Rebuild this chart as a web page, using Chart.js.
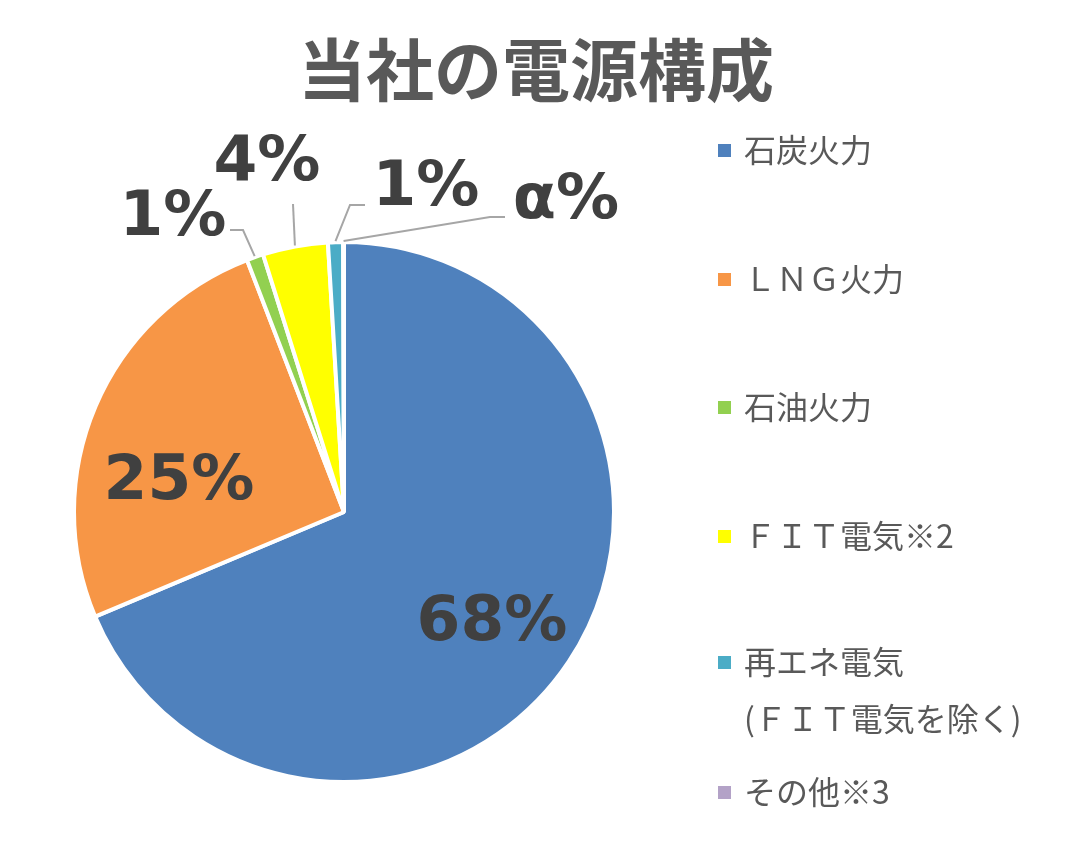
<!DOCTYPE html>
<html>
<head>
<meta charset="utf-8">
<script src="https://cdn.jsdelivr.net/npm/chart.js@4"></script>
<style>
  body { margin: 0; background: #fff; }
  #wrap { width: 1076px; height: 850px; position: relative; }
</style>
</head>
<body>
<div id="wrap"><canvas id="pie"></canvas></div>
<script>
// ========== DATA ==========
const title = '当社の電源構成';
const categories = ['石炭火力', 'ＬＮＧ火力', '石油火力', 'ＦＩＴ電気※2', ['再エネ電気', '(ＦＩＴ電気を除く)'], 'その他※3'];
const shares = [68.7, 25.5, 1.0, 3.9, 0.9, 0.05];
const shareLabels = ['68%', '25%', '1%', '4%', '1%', 'α%'];
const colors = ['#4F81BD', '#F79646', '#92D050', '#FFFF00', '#4BACC6', '#B3A2C7'];

// ========== LABEL LAYOUT ==========
// inside labels: only x/baseline; outside ones get a leader line to the slice
const labelPos = [
  { x: 492, y: 640 },
  { x: 179, y: 499 },
  { x: 173, y: 235, line: [[230, 230], [243, 230]] },
  { x: 267, y: 180, line: [[293, 204]] },
  { x: 426, y: 205, line: [[365, 205], [350, 205]] },
  { x: 566, y: 218, line: [[505, 217], [490, 217]] }
];
const legendRows = [151, 280, 408, 537, 663, 793];

const overlay = {
  id: 'overlay',
  afterDraw(chart) {
    const ctx = chart.ctx;
    const arcs = chart.getDatasetMeta(0).data;
    ctx.save();

    // title
    ctx.fillStyle = '#595959';
    ctx.font = 'bold 68px "Noto Sans CJK JP"';
    ctx.textAlign = 'center';
    ctx.textBaseline = 'middle';
    ctx.fillText(title, 536, 70);

    // leader lines
    ctx.strokeStyle = '#A6A6A6';
    ctx.lineWidth = 2;
    labelPos.forEach((p, i) => {
      if (!p.line) return;
      const a = arcs[i];
      const mid = (a.startAngle + a.endAngle) / 2;
      const ax = a.x + Math.cos(mid) * (a.outerRadius + 1);
      const ay = a.y + Math.sin(mid) * (a.outerRadius + 1);
      ctx.beginPath();
      ctx.moveTo(p.line[0][0], p.line[0][1]);
      p.line.slice(1).forEach(pt => ctx.lineTo(pt[0], pt[1]));
      ctx.lineTo(ax, ay);
      ctx.stroke();
    });

    // value labels
    ctx.fillStyle = '#404040';
    ctx.font = 'bold 63px "DejaVu Sans"';
    ctx.textAlign = 'center';
    ctx.textBaseline = 'alphabetic';
    labelPos.forEach((p, i) => ctx.fillText(shareLabels[i], p.x, p.y));

    // legend
    ctx.font = '32px "Noto Sans CJK JP"';
    ctx.textAlign = 'left';
    ctx.textBaseline = 'middle';
    categories.forEach((c, i) => {
      const y = legendRows[i];
      ctx.fillStyle = colors[i];
      ctx.fillRect(718, y - 7, 13, 13);
      ctx.fillStyle = '#595959';
      const lines = Array.isArray(c) ? c : [c];
      lines.forEach((t, k) => ctx.fillText(t, 744, y - 1 + k * 57));
    });
    ctx.restore();
  }
};

new Chart(document.getElementById('pie'), {
  type: 'pie',
  data: {
    labels: categories,
    datasets: [{
      data: shares,
      backgroundColor: colors,
      borderColor: '#ffffff',
      borderWidth: 4,
      hoverOffset: 0
    }]
  },
  options: {
    responsive: true,
    maintainAspectRatio: false,
    animation: false,
    layout: { padding: { left: 72, right: 460, top: 240, bottom: 66 } },
    plugins: {
      legend: { display: false },
      title: { display: false },
      tooltip: { enabled: false }
    }
  },
  plugins: [overlay]
});
</script>
</body>
</html>
